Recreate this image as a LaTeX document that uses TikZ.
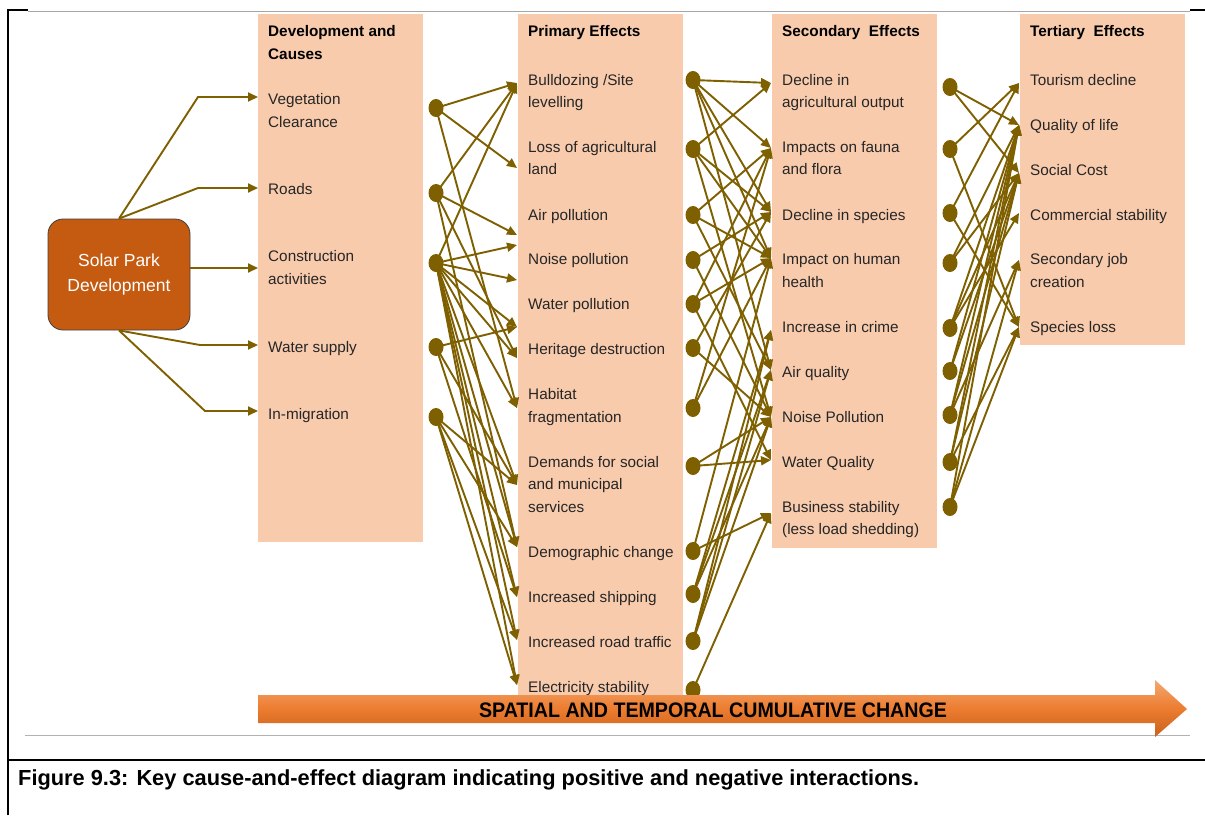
\documentclass[tikz,border=0pt]{standalone}
\usepackage{fontspec}
\setmainfont{Liberation Sans}
\usetikzlibrary{arrows.meta,shapes.geometric}
\definecolor{peach}{HTML}{F8CBAD}
\definecolor{lnk}{HTML}{7F6000}
\definecolor{solar}{HTML}{C55A11}
\definecolor{txt}{HTML}{262626}
\definecolor{arrtop}{HTML}{F4A86F}
\definecolor{arrmid}{HTML}{EC7C30}
\definecolor{arrbot}{HTML}{C9621B}
\begin{document}
\begin{tikzpicture}[x=1pt,y=-1pt,
  col/.style={fill=peach,draw=none},
  t/.style={anchor=base west,inner sep=0pt,font=\fontsize{15.3}{18}\selectfont,text=txt},
  hd/.style={anchor=base west,inner sep=0pt,font=\fontsize{15.3}{18}\selectfont\bfseries,text=black},
  dot/.style={ellipse,fill=lnk,draw=none,minimum width=15pt,minimum height=18pt,inner sep=0pt},
  lk/.style={draw=lnk,line width=1.9pt,-{Triangle[length=10pt,width=9pt]}},
  solarbox/.style={rectangle,rounded corners=15pt,fill=solar,draw=black!75,line width=0.8pt,
    minimum width=142pt,minimum height=111pt,align=center,text=white,
    font=\fontsize{17.5}{25}\selectfont}
]
\useasboundingbox (0,0) rectangle (1205,815);
\fill[white] (0,0) rectangle (1205,815);
% frame
\draw[black,line width=2pt] (8,815) -- (8,10) -- (28,10);
\draw[black,line width=2pt] (1190,10) -- (1205,10);
\draw[black!35,line width=1pt] (28,11.5) -- (1190,11.5);
\draw[black!30,line width=1pt] (25,735) -- (1190,735);
\draw[black,line width=2.5pt] (8,760) -- (1205,760);

% columns
\fill[col] (258,14) rectangle (423,542);
\fill[col] (518,14) rectangle (683,697);
\fill[col] (772,14) rectangle (937,548);
\fill[col] (1020,14) rectangle (1185,345);

% column 1 text
\node[hd] (h1a) at (268,36.5) {Development and};
\node[hd] (h1b) at (268,59) {Causes};
\node[t] (c1a) at (268,104) {Vegetation};
\node[t] (c1b) at (268,127) {Clearance};
\node[t] (c1c) at (268,194) {Roads};
\node[t] (c1d) at (268,261.5) {Construction};
\node[t] (c1e) at (268,284.5) {activities};
\node[t] (c1f) at (268,352) {Water supply};
\node[t] (c1g) at (268,419) {In-migration};

% column 2 text
\node[hd] (h2) at (528,36.5) {Primary Effects};
\node[t] (c2a) at (528,85) {Bulldozing /Site};
\node[t] (c2b) at (528,107.5) {levelling};
\node[t] (c2c) at (528,152) {Loss of agricultural};
\node[t] (c2d) at (528,174.5) {land};
\node[t] (c2e) at (528,220) {Air pollution};
\node[t] (c2f) at (528,264.5) {Noise pollution};
\node[t] (c2g) at (528,309.5) {Water pollution};
\node[t] (c2h) at (528,354.5) {Heritage destruction};
\node[t] (c2i) at (528,399.5) {Habitat};
\node[t] (c2j) at (528,422) {fragmentation};
\node[t] (c2k) at (528,467) {Demands for social};
\node[t] (c2l) at (528,489.5) {and municipal};
\node[t] (c2m) at (528,512) {services};
\node[t] (c2n) at (528,557) {Demographic change};
\node[t] (c2o) at (528,602) {Increased shipping};
\node[t] (c2p) at (528,647) {Increased road traffic};
\node[t] (c2q) at (528,692) {Electricity stability};

% column 3 text
\node[hd] (h3) at (782,36.5) {Secondary\ \ Effects};
\node[t] (c3a) at (782,85) {Decline in};
\node[t] (c3b) at (782,107.5) {agricultural output};
\node[t] (c3c) at (782,152) {Impacts on fauna};
\node[t] (c3d) at (782,174.5) {and flora};
\node[t] (c3e) at (782,220) {Decline in species};
\node[t] (c3f) at (782,264.5) {Impact on human};
\node[t] (c3g) at (782,287) {health};
\node[t] (c3h) at (782,332) {Increase in crime};
\node[t] (c3i) at (782,377) {Air quality};
\node[t] (c3j) at (782,422) {Noise Pollution};
\node[t] (c3k) at (782,467) {Water Quality};
\node[t] (c3l) at (782,512) {Business stability};
\node[t] (c3m) at (782,534.5) {(less load shedding)};

% column 4 text
\node[hd] (h4) at (1030,36.5) {Tertiary\ \ Effects};
\node[t] (c4a) at (1030,85) {Tourism decline};
\node[t] (c4b) at (1030,130) {Quality of life};
\node[t] (c4c) at (1030,175) {Social Cost};
\node[t] (c4d) at (1030,220) {Commercial stability};
\node[t] (c4e) at (1030,264.5) {Secondary job};
\node[t] (c4f) at (1030,287) {creation};
\node[t] (c4g) at (1030,332) {Species loss};

% solar park box and its links
\node[solarbox] (solar) at (119,274.5) {Solar Park\\Development};
\coordinate (e1) at (198,97);  \coordinate (k1) at (258,97);
\coordinate (e2) at (198,188); \coordinate (k2) at (258,188);
\coordinate (k3) at (258,268);
\coordinate (e4) at (200,345); \coordinate (k4) at (258,345);
\coordinate (e5) at (205,411); \coordinate (k5) at (258,411);
\draw[lk] (solar.north) -- (e1) -- (k1);
\draw[lk] (solar.north) -- (e2) -- (k2);
\draw[lk] (solar.east |- k3) -- (k3);
\draw[lk] (solar.south) -- (e4) -- (k4);
\draw[lk] (solar.south) -- (e5) -- (k5);

% target coordinates
\foreach \y in {83,168,235,245,280,327,358,408,485,547,597,640,685}
  \coordinate (p\y) at (517,\y);
\foreach \y in {83,148,212,258,330,370,417,460,513}
  \coordinate (r\y) at (771,\y);
\foreach \y in {83,125,173,213,260,327}
  \coordinate (u\y) at (1019,\y);

% dots
\foreach \n/\y in {a/108,b/193,c/263,d/347,e/417}
  \node[dot] (d1\n) at (436,\y) {};
\foreach \n/\y in {a/80,b/149,c/215,d/260,e/304,f/348,g/408,h/466,i/551,j/594,k/641,l/690}
  \node[dot] (d2\n) at (693,\y) {};
\foreach \n/\y in {a/87,b/149,c/213,d/263,e/328,f/371,g/415,h/462,i/507}
  \node[dot] (d3\n) at (950,\y) {};

% links column 1 -> column 2
\foreach \s/\t in {a/83,a/168,a/408,
                   b/83,b/235,b/358,b/547,
                   c/83,c/245,c/280,c/327,c/358,c/408,c/485,c/547,c/597,c/640,c/685,
                   d/327,d/485,d/597,
                   e/485,e/547,e/640,e/685}
  \draw[lk] (d1\s.center) -- (p\t);

% links column 2 -> column 3
\foreach \s/\t in {a/83,a/148,a/212,a/258,a/370,
                   b/83,b/212,b/258,b/417,
                   c/148,c/258,c/370,
                   d/212,d/417,
                   e/148,e/258,e/460,
                   f/212,f/417,
                   g/148,g/258,
                   h/417,h/460,
                   i/258,i/513,
                   j/330,j/370,j/417,
                   k/330,k/370,k/417,
                   l/513}
  \draw[lk] (d2\s.center) -- (r\t);

% links column 3 -> column 4
\foreach \s/\t in {a/125,a/173,
                   b/83,b/327,
                   c/83,c/327,
                   d/125,d/173,
                   e/125,e/173,e/213,
                   f/125,f/173,
                   g/125,g/173,g/260,
                   h/125,h/173,h/327,
                   i/125,i/260,i/327}
  \draw[lk] (d3\s.center) -- (u\t);

% big arrow
\shade[top color=arrtop,bottom color=arrbot,middle color=arrmid]
  (258,695) -- (1155,695) -- (1155,680) -- (1187,709) -- (1155,737) -- (1155,723) -- (258,723) -- cycle;
\node[inner sep=0pt,font=\fontsize{21}{24}\selectfont\bfseries] (band) at (713,710)
  {\scalebox{0.935}[1]{SPATIAL AND TEMPORAL CUMULATIVE CHANGE}};

% caption
\node[anchor=base west,inner sep=0pt,font=\fontsize{21.8}{24}\selectfont\bfseries] (cap) at (18,785)
  {Figure 9.3: Key cause-and-effect diagram indicating positive and negative interactions.};
\end{tikzpicture}
\end{document}
